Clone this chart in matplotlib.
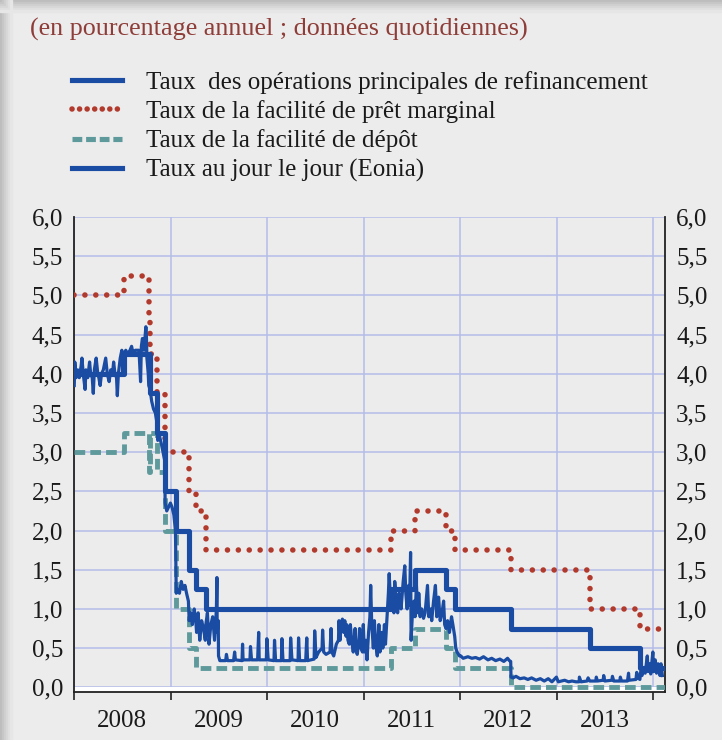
import numpy as np
import pandas as pd
import matplotlib
matplotlib.use('Agg')
import matplotlib.pyplot as plt
import matplotlib.dates as mdates
from matplotlib.lines import Line2D
from matplotlib.patches import Rectangle

plt.rcParams['font.family'] = ['Liberation Serif', 'DejaVu Serif']

# ===== données (taux en %) =====
# taux directeurs : dates de changement + niveau
mro_dates = ['2008-01-01', '2008-07-09', '2008-10-15', '2008-11-12', '2008-12-10',
             '2009-01-21', '2009-03-11', '2009-04-08', '2009-05-13', '2011-04-13',
             '2011-07-13', '2011-11-09', '2011-12-14', '2012-07-11', '2013-05-08',
             '2013-11-13', '2014-02-06']
mro_vals = [4.00, 4.25, 3.75, 3.25, 2.50, 2.00, 1.50, 1.25, 1.00, 1.25,
            1.50, 1.25, 1.00, 0.75, 0.50, 0.25, 0.25]

marg_dates = ['2008-01-01', '2008-07-09', '2008-10-09', '2008-10-15', '2008-11-12',
              '2008-12-10', '2009-03-11', '2009-04-08', '2009-05-13', '2011-04-13',
              '2011-07-13', '2011-11-09', '2011-12-14', '2012-07-11', '2013-05-08',
              '2013-11-13', '2014-02-14']
marg_vals = [5.00, 5.25, 4.75, 4.25, 3.75, 3.00, 2.50, 2.25, 1.75, 2.00,
             2.25, 2.00, 1.75, 1.50, 1.00, 0.75, 0.75]

dep_dates = ['2008-01-01', '2008-07-09', '2008-10-09', '2008-10-15', '2008-11-12',
             '2008-12-10', '2009-01-21', '2009-03-11', '2009-04-08', '2011-04-13',
             '2011-07-13', '2011-11-09', '2011-12-14', '2012-07-11', '2014-02-14']
dep_vals = [3.00, 3.25, 2.75, 3.25, 2.75, 2.00, 1.00, 0.50, 0.25, 0.50,
            0.75, 0.50, 0.25, 0.00, 0.00]

# Eonia (lecture approximative du graphique)
eonia_dates = [
    '2008-01-02', '2008-01-04', '2008-01-09', '2008-01-15', '2008-01-21', '2008-01-28', '2008-01-31',
    '2008-02-05', '2008-02-12', '2008-02-15', '2008-02-22', '2008-02-29', '2008-03-04', '2008-03-10',
    '2008-03-14', '2008-03-18', '2008-03-25', '2008-03-31', '2008-04-04', '2008-04-09', '2008-04-14',
    '2008-04-21', '2008-04-30', '2008-05-06', '2008-05-13', '2008-05-19', '2008-05-26', '2008-05-30',
    '2008-06-04', '2008-06-10', '2008-06-13', '2008-06-17', '2008-06-24', '2008-06-30', '2008-07-04',
    '2008-07-08', '2008-07-15', '2008-07-22', '2008-07-31', '2008-08-06', '2008-08-12', '2008-08-20',
    '2008-08-29', '2008-09-03', '2008-09-09', '2008-09-12', '2008-09-16', '2008-09-22', '2008-09-29',
    '2008-10-01', '2008-10-03', '2008-10-08', '2008-10-10', '2008-10-15', '2008-10-21', '2008-10-28',
    '2008-11-04', '2008-11-11', '2008-11-13', '2008-11-20', '2008-11-27', '2008-12-03', '2008-12-09',
    '2008-12-11', '2008-12-17', '2008-12-24', '2008-12-31',
    '2009-01-06', '2009-01-13', '2009-01-19', '2009-01-22', '2009-01-27', '2009-02-03', '2009-02-10',
    '2009-02-17', '2009-02-24', '2009-03-02', '2009-03-09', '2009-03-12', '2009-03-18', '2009-03-24',
    '2009-03-31', '2009-04-06', '2009-04-09', '2009-04-15', '2009-04-21', '2009-04-28', '2009-05-05',
    '2009-05-12', '2009-05-14', '2009-05-20', '2009-05-26', '2009-06-02', '2009-06-09', '2009-06-16',
    '2009-06-23', '2009-06-25', '2009-06-26', '2009-06-30', '2009-07-01',
    '2009-07-06', '2009-07-28', '2009-07-31', '2009-08-04', '2009-08-27', '2009-08-31',
    '2009-09-03', '2009-09-28', '2009-09-30', '2009-10-02', '2009-10-28', '2009-10-30',
    '2009-11-03', '2009-11-26', '2009-11-30', '2009-12-02', '2009-12-29', '2009-12-31',
    '2010-01-05', '2010-01-27', '2010-01-29', '2010-02-02', '2010-02-24', '2010-02-26',
    '2010-03-02', '2010-03-29', '2010-03-31', '2010-04-05', '2010-04-28', '2010-04-30',
    '2010-05-04', '2010-05-27', '2010-05-31', '2010-06-03', '2010-06-28', '2010-06-30',
    '2010-07-05', '2010-07-15', '2010-07-28', '2010-07-30', '2010-08-03', '2010-08-12', '2010-08-27',
    '2010-08-31', '2010-09-03', '2010-09-10', '2010-09-20', '2010-09-28', '2010-09-30', '2010-10-04',
    '2010-10-08', '2010-10-13', '2010-10-18', '2010-10-22', '2010-10-27', '2010-10-29', '2010-11-03',
    '2010-11-08', '2010-11-12', '2010-11-17', '2010-11-23', '2010-11-30', '2010-12-03', '2010-12-08',
    '2010-12-13', '2010-12-17', '2010-12-22', '2010-12-28', '2010-12-31',
    '2011-01-04', '2011-01-10', '2011-01-14', '2011-01-20', '2011-01-25', '2011-01-28', '2011-02-01',
    '2011-02-07', '2011-02-11', '2011-02-16', '2011-02-22', '2011-02-28', '2011-03-04', '2011-03-10',
    '2011-03-15', '2011-03-21', '2011-03-25', '2011-03-31', '2011-04-05', '2011-04-08', '2011-04-13',
    '2011-04-18', '2011-04-26', '2011-04-29', '2011-05-04', '2011-05-10', '2011-05-16', '2011-05-23',
    '2011-05-31', '2011-06-06', '2011-06-10', '2011-06-15', '2011-06-21', '2011-06-24', '2011-06-28',
    '2011-06-30', '2011-07-05', '2011-07-11', '2011-07-15', '2011-07-20', '2011-07-26', '2011-07-29',
    '2011-08-03', '2011-08-09', '2011-08-16', '2011-08-22', '2011-08-31', '2011-09-05', '2011-09-12',
    '2011-09-16', '2011-09-23', '2011-09-30', '2011-10-05', '2011-10-12', '2011-10-18', '2011-10-25',
    '2011-10-31', '2011-11-04', '2011-11-09', '2011-11-15', '2011-11-22', '2011-11-30', '2011-12-05',
    '2011-12-12', '2011-12-16', '2011-12-21', '2011-12-30',
    '2012-01-04', '2012-01-13', '2012-01-31', '2012-02-15', '2012-02-29', '2012-03-15', '2012-03-30',
    '2012-04-16', '2012-04-30', '2012-05-15', '2012-05-31', '2012-06-15', '2012-06-29', '2012-07-06',
    '2012-07-11', '2012-07-12', '2012-07-20', '2012-07-31', '2012-08-15', '2012-08-31', '2012-09-14',
    '2012-09-28', '2012-10-15', '2012-10-31', '2012-11-15', '2012-11-30', '2012-12-14', '2012-12-31',
    '2013-01-07', '2013-01-31', '2013-02-15', '2013-02-28', '2013-03-15', '2013-03-27', '2013-03-28',
    '2013-04-03', '2013-04-26', '2013-04-30', '2013-05-06', '2013-05-29', '2013-05-31', '2013-06-04',
    '2013-06-26', '2013-06-28', '2013-07-02', '2013-07-29', '2013-07-31', '2013-08-05', '2013-08-28',
    '2013-08-30', '2013-09-03', '2013-09-26', '2013-09-30', '2013-10-02', '2013-10-28', '2013-10-31',
    '2013-11-04', '2013-11-12', '2013-11-15', '2013-11-20', '2013-11-27', '2013-12-02', '2013-12-10',
    '2013-12-13', '2013-12-18', '2013-12-23', '2013-12-31', '2014-01-03', '2014-01-09', '2014-01-14',
    '2014-01-20', '2014-01-27', '2014-01-31', '2014-02-05',
]
eonia_vals = [
    3.85, 4.15, 3.95, 4.05, 3.95, 4.10, 4.20,
    4.00, 3.80, 4.05, 3.95, 4.15, 4.00, 3.95,
    3.75, 4.05, 4.20, 4.00, 3.95, 3.85, 4.00,
    4.05, 4.20, 4.00, 3.90, 4.05, 4.00, 4.15,
    4.00, 3.95, 3.72, 4.00, 4.20, 4.30, 4.00,
    4.25, 4.30, 4.25, 4.30, 4.35, 4.25, 4.30,
    4.30, 4.30, 3.90, 4.35, 4.45, 4.30, 4.60,
    4.50, 4.20, 4.00, 3.85, 3.80, 3.65, 3.55,
    3.50, 3.35, 3.15, 3.20, 3.10, 3.00, 2.90,
    2.35, 2.25, 2.30, 2.35,
    2.30, 2.20, 2.00, 1.20, 1.25, 1.20, 1.35,
    1.25, 1.30, 1.20, 1.10, 0.85, 0.95, 0.80,
    1.00, 0.85, 0.70, 0.95, 0.60, 0.85, 0.75,
    0.60, 0.80, 0.95, 0.55, 0.80, 0.90, 0.60,
    1.00, 1.40, 0.70, 0.85, 0.40,
    0.34, 0.34, 0.42, 0.34, 0.34, 0.45,
    0.35, 0.34, 0.55, 0.35, 0.35, 0.52,
    0.35, 0.35, 0.70, 0.35, 0.35, 0.62,
    0.35, 0.34, 0.60, 0.34, 0.34, 0.62,
    0.34, 0.34, 0.63, 0.35, 0.34, 0.63,
    0.34, 0.34, 0.63, 0.34, 0.36, 0.72,
    0.38, 0.45, 0.50, 0.73, 0.45, 0.42, 0.45,
    0.75, 0.45, 0.40, 0.55, 0.60, 0.85, 0.60,
    0.80, 0.87, 0.70, 0.85, 0.65, 0.80, 0.60,
    0.55, 0.80, 0.60, 0.45, 0.75, 0.50, 0.42,
    0.55, 0.75, 0.50, 0.45, 0.80,
    0.45, 0.60, 0.35, 0.70, 0.90, 1.30, 0.80,
    0.50, 0.85, 0.55, 0.40, 0.80, 0.45, 0.70,
    0.50, 0.80, 0.55, 0.90, 1.20, 1.45, 1.10,
    1.25, 0.95, 1.35, 1.15, 0.95, 1.20, 1.00,
    1.35, 1.55, 1.20, 1.00, 1.30, 1.05, 1.72,
    0.60, 0.95, 1.10, 0.90, 1.30, 0.95, 1.20,
    0.90, 1.00, 0.88, 0.95, 1.30, 0.90, 1.00,
    0.85, 1.10, 1.30, 0.90, 1.15, 0.85, 0.95,
    1.10, 0.80, 0.75, 0.85, 0.70, 0.90, 0.80,
    0.65, 0.50, 0.45, 0.40,
    0.40, 0.37, 0.39, 0.37, 0.38, 0.36, 0.39,
    0.35, 0.37, 0.34, 0.36, 0.33, 0.37, 0.34,
    0.33, 0.13, 0.12, 0.14, 0.11, 0.12, 0.10,
    0.12, 0.09, 0.11, 0.08, 0.11, 0.07, 0.13,
    0.07, 0.09, 0.07, 0.08, 0.07, 0.07, 0.13,
    0.07, 0.08, 0.12, 0.08, 0.08, 0.13, 0.08,
    0.09, 0.15, 0.08, 0.09, 0.14, 0.08, 0.08,
    0.13, 0.08, 0.08, 0.18, 0.09, 0.10, 0.19,
    0.12, 0.10, 0.20, 0.15, 0.25, 0.18, 0.40,
    0.20, 0.30, 0.17, 0.45, 0.20, 0.35, 0.18,
    0.30, 0.15, 0.30, 0.15,
]

labels = ['Taux  des opérations principales de refinancement',
          'Taux de la facilité de prêt marginal',
          'Taux de la facilité de dépôt',
          'Taux au jour le jour (Eonia)']

yticks = np.arange(0, 6.01, 0.5)

# ===== couleurs =====
BLUE = '#1a4ca3'
RED = '#b23a2c'
TEAL = '#5e9a9c'
GRID = '#b5bde8'
BG = '#ececec'
TXT = '#1a1a1a'

# ===== figure =====
fig = plt.figure(figsize=(7.22, 7.40), dpi=100)
fig.patch.set_facecolor(BG)

# ombre du cadre (haut et gauche)
shades = ['#bdbdbd', '#c6c6c6', '#cfcfcf', '#d7d7d7', '#dfdfdf', '#e6e6e6']
for i, c in enumerate(shades):
    fig.patches.append(Rectangle((i * 2 / 722, 0), 2 / 722, 1, transform=fig.transFigure,
                                 color=c, zorder=0))
    fig.patches.append(Rectangle((0, 1 - (i + 1) * 2 / 740), 1, 2 / 740, transform=fig.transFigure,
                                 color=c, zorder=0))

ax = fig.add_axes([74 / 722, 1 - 692 / 740, (665 - 74) / 722, (692 - 217) / 740])
ax.set_facecolor(BG)

d_mro = pd.to_datetime(mro_dates)
d_marg = pd.to_datetime(marg_dates)
d_dep = pd.to_datetime(dep_dates)
d_eon = pd.to_datetime(eonia_dates)

ax.step(d_dep, dep_vals, where='post', color=TEAL, lw=3.5,
        linestyle=(0, (2.2, 1.05)), dash_capstyle='butt', zorder=3)
ax.step(d_marg, marg_vals, where='post', color=RED, lw=4.0,
        linestyle=(0, (0.01, 1.95)), dash_capstyle='round', zorder=3)
ax.plot(d_eon, eonia_vals, color=BLUE, lw=2.3, zorder=4)
ax.step(d_mro, mro_vals, where='post', color=BLUE, lw=3.7, zorder=5)

# bande blanche sous la ligne 0
ax.axhspan(-0.06, 0, color='white', zorder=1, lw=0)

ax.set_xlim(pd.Timestamp('2008-01-01'), pd.Timestamp('2014-02-15'))
ax.set_ylim(-0.06, 6.0)
ax.set_yticks(yticks)
ax.yaxis.set_major_formatter(plt.FuncFormatter(lambda v, p: f'{v:.1f}'.replace('.', ',')))
ax.tick_params(axis='y', length=0, labelsize=18, colors=TXT, pad=8,
               left=False, right=False, labelleft=True, labelright=True)

ax.xaxis.set_major_locator(mdates.YearLocator())
ax.xaxis.set_minor_locator(mdates.MonthLocator(bymonth=7, bymonthday=1))
ax.xaxis.set_major_formatter(plt.NullFormatter())
ax.xaxis.set_minor_formatter(mdates.DateFormatter('%Y'))
ax.tick_params(axis='x', which='major', length=6, width=1.2, color='#222', direction='out')
ax.tick_params(axis='x', which='minor', length=0, labelsize=18, colors=TXT, pad=13)

ax.grid(True, which='major', color=GRID, lw=1.1, zorder=0)
ax.set_axisbelow(True)

ax.spines['top'].set_visible(False)
for side in ['left', 'right', 'bottom']:
    ax.spines[side].set_color('#222')
    ax.spines[side].set_linewidth(1.3)

# ===== titre =====
fig.text(30 / 722, 1 - 29 / 740, '(en pourcentage annuel ; données quotidiennes)',
         color='#8e3d38', fontsize=18.8, ha='left', va='center')

# ===== légende =====
handles = [
    Line2D([], [], color=BLUE, lw=3.7),
    Line2D([], [], color=RED, lw=4.0, linestyle=(0, (0.01, 1.35)), dash_capstyle='round'),
    Line2D([], [], color=TEAL, lw=3.7, linestyle=(0, (1.9, 0.75))),
    Line2D([], [], color=BLUE, lw=3.7),
]
fig.legend(handles, labels, loc='upper left', bbox_to_anchor=(72 / 722, 1 - 71 / 740),
           frameon=False, fontsize=18, handlelength=2.0, handletextpad=0.95,
           labelspacing=0.25, borderpad=0, borderaxespad=0, labelcolor=TXT)

plt.savefig('out.png', dpi=100, facecolor=fig.get_facecolor())
